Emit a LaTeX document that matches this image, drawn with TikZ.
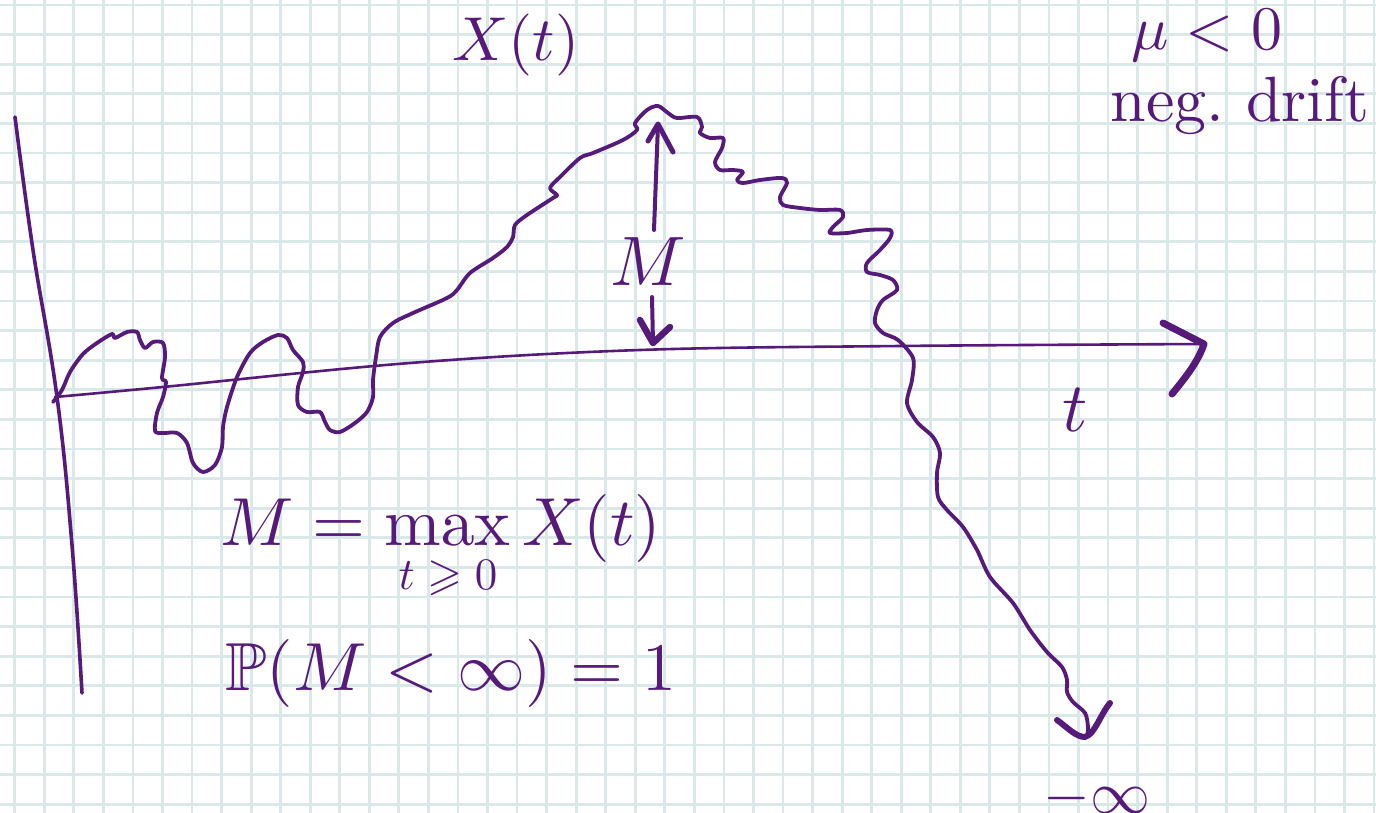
\documentclass[tikz,border=0pt]{standalone}
\usepackage{amsmath, amssymb}
\usepackage{graphicx}
\usepackage{xcolor}
\usepackage{tikz}
\usetikzlibrary{arrows.meta, positioning, calc}

\definecolor{pen}{RGB}{86,27,122}
\definecolor{gridblue}{RGB}{218,232,233}
\newcommand{\hand}[2]{\scalebox{#1}{#2}}

\begin{document}
\begin{tikzpicture}[x=1pt, y=-1pt,
  gridline/.style={draw=gridblue, line width=2.8pt},
  pathline/.style={draw=pen, line width=3.8pt, line cap=round, line join=round},
  axisline/.style={draw=pen, line width=2.6pt, line cap=round},
  barb/.style={draw=pen, line width=6pt, line cap=round, line join=round},
  handtext/.style={text=pen, inner sep=0pt}]
  \useasboundingbox[fill=white] (0,0) rectangle (1376,813);
  % Grid paper
  \foreach \i in {0,...,46}
    \draw[gridline] (14.7+29.55*\i,0) -- (14.7+29.55*\i,813);
  \foreach \j in {0,...,27}
    \draw[gridline] (0,5+29.6*\j) -- (1376,5+29.6*\j);
  % Axes
  \coordinate (origin) at (55,397);
  \coordinate (taxisend) at (1204,344);
  \draw[axisline, line width=3.6pt] plot[smooth, tension=0.7] coordinates {(15,117) (33,250) (57,397) (72,545) (82,693)};
  \draw[axisline] plot[smooth, tension=0.6] coordinates {(origin) (163,387) (410,363) (640,350) (900,346) (taxisend)};
  \coordinate (tbarbup) at (1163,323);
  \coordinate (tbarbdn) at (1172,394);
  \draw[barb, line width=7pt] (tbarbup) -- (taxisend) .. controls (1198,362) and (1185,378) .. (tbarbdn);
  % Sample path of X(t)
  \draw[pathline] plot[smooth, tension=0.5] coordinates {
    (53,402) (62,390) (70,372) (83,354) (97,343) (112,334) (115,338) (127,332)
    (137,332) (140,340) (145,348) (153,342) (163,343) (165,357) (162,378) (166,382)
    (163,397) (157,413) (155,431) (163,433) (177,433) (187,443) (193,463) (203,472)
    (215,465) (222,447) (223,427) (227,407) (237,377) (250,353) (263,342) (278,335)
    (287,338) (293,350) (303,362) (303,372) (298,387) (298,405) (307,412) (320,412)
    (325,422) (330,430) (340,432) (355,423) (367,412) (373,397) (373,380) (376,357)
    (380,337) (393,323) (413,313) (447,298) (457,290) (470,273) (493,258) (507,247)
    (513,237) (515,225) (527,215) (553,198) (557,195) (550,188) (560,177) (580,158)
    (593,153) (623,140) (637,130) (635,123) (647,110) (658,106) (668,113) (677,118)
    (697,117) (702,127) (700,133) (710,138) (723,138) (722,148) (715,162) (720,170)
    (733,170) (743,172) (737,180) (743,183) (760,180) (782,178) (787,183) (780,197)
    (783,205) (800,208) (820,210) (840,210) (843,217) (833,227) (830,233) (847,233)
    (867,230) (890,230) (890,238) (880,250) (867,263) (867,272) (880,275) (893,280)
    (897,290) (883,300) (877,310) (875,323) (883,333) (898,340) (913,358) (912,380)
    (907,403) (917,422) (933,437) (940,453) (937,473) (938,497) (947,510) (963,527)
    (977,550) (990,577) (1013,603) (1030,630) (1047,652) (1062,667) (1067,680) (1067,692)
    (1073,702) (1085,713) (1088,727) (1087,737)};
  \coordinate (pathend) at (1085,737);
  \draw[barb] (1057,720) .. controls (1068,728) and (1076,737) .. (pathend)
    .. controls (1095,734) and (1100,715) .. (1110,703);
  % Height of the maximum
  \coordinate (peak) at (658,124);
  \coordinate (mtop) at (654,230);
  \coordinate (mbot) at (652,297);
  \coordinate (onaxis) at (653,343);
  \draw[axisline, line width=4pt] (mtop) -- (peak);
  \draw[barb, line width=5pt] (648,141) -- (peak) -- (673,152);
  \draw[axisline, line width=4pt] (mbot) -- (onaxis);
  \draw[barb, line width=6.5pt] (640,320) -- (onaxis) -- (670,327);
  \node[handtext] (mlabel) at (648,262) {\hand{7}{$M$}};
  % Labels
  \node[handtext] (xlabel) at (516,45) {\hand{6.2}{$X(t)$}};
  \node[handtext, anchor=base] (drift) at (1207,50) {\hand{6.2}{$\mu<0$}};
  \node[handtext, anchor=base] (driftnote) at (1240,122) {\hand{6.4}{neg.\ drift}};
  \node[handtext] (tlabel) at (1075,410) {\hand{7}{$t$}};
  \node[handtext, anchor=base west] (maxdef) at (220,545) {\hand{6.8}{$M = \max$}};
  \node[handtext, anchor=base] (maxsub) at (448,589) {\hand{4.5}{$t\geqslant 0$}};
  \node[handtext, anchor=base west] (maxarg) at (522,545) {\hand{6.8}{$X(t)$}};
  \node[handtext, anchor=base west] (probfinite) at (225,690)
    {\hand{6.8}{$\mathbb{P}(M<\infty)=1$}};
  \node[handtext, anchor=base] (minusinf) at (1097,813) {\hand{6}{$-\infty$}};
\end{tikzpicture}
\end{document}
